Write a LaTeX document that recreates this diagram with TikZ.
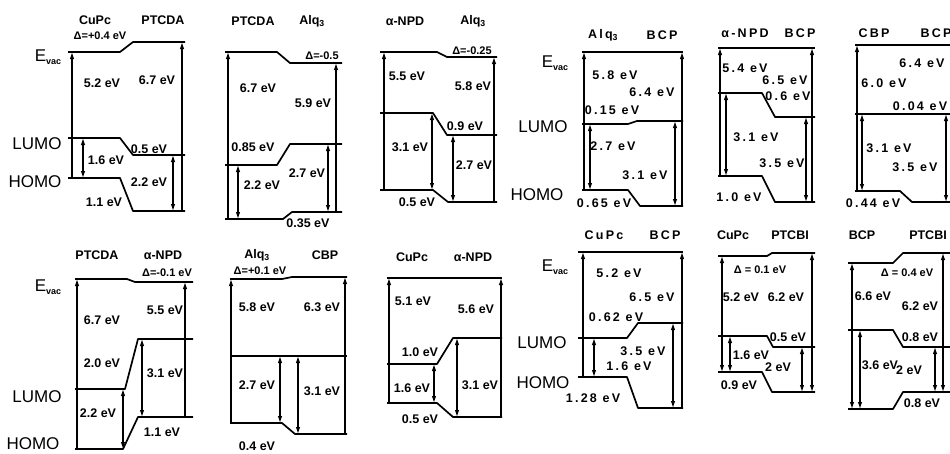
\documentclass[tikz,border=0pt]{standalone}
\usepackage{fontspec}
\setmainfont{Liberation Sans}
\newfontfamily\spcfont[LetterSpace=18]{Liberation Sans}
\usetikzlibrary{arrows.meta}
\newcounter{lblc}
\newcommand\tl[3][lbl]{\stepcounter{lblc}\node[#1] (t\arabic{lblc}) at (#2) {#3};}
\tikzset{
 lev/.style={line width=1.7pt, line join=round},
 uarr/.style={line width=1.1pt, -{Latex[length=7pt,width=4.5pt]}},
 darr/.style={line width=1.1pt, {Latex[length=7pt,width=4.5pt]}-{Latex[length=7pt,width=4.5pt]}},
 lbl/.style={font=\fontsize{12.5}{13}\selectfont\bfseries, inner sep=0pt},
 slbl/.style={font=\spcfont\fontsize{12.5}{13}\selectfont\bfseries, inner sep=0pt},
 dlbl/.style={font=\fontsize{11}{12}\selectfont\bfseries, inner sep=0pt},
 side/.style={font=\fontsize{17}{18}\selectfont, inner sep=0pt},
}
\newcommand\evac{E\raisebox{-3pt}{\fontsize{9}{9}\selectfont\bfseries vac}}
\begin{document}
\begin{tikzpicture}[x=1pt,y=-1pt]
\clip (0,0) rectangle (950,453);
\fill[white] (0,0) rectangle (950,453);
% ---------- Panel 1: CuPc / PTCDA
\draw[lev] (68,52) -- (120,52) -- (133,42) -- (185,42);
\draw[lev] (68,138) -- (120,138) -- (133,155) -- (185,155);
\draw[lev] (68,178) -- (120,178) -- (133,211) -- (185,211);
\draw[uarr] (72,178) -- (72,52);
\draw[darr] (83,138) -- (83,178);
\draw[uarr] (182,211) -- (182,42);
\draw[darr] (173,155) -- (173,211);
\tl{95,20}{CuPc}\tl{163,20}{PTCDA}
\tl[dlbl]{100,36}{Δ=+0.4 eV}
\tl{102,83}{5.2 eV}\tl{157,80}{6.7 eV}\tl{106,160}{1.6 eV}
\tl{149,149}{0.5 eV}\tl{149,182}{2.2 eV}\tl{104,202}{1.1 eV}
\tl[side]{48,57}{\evac}\tl[side]{37,144}{LUMO}\tl[side]{35,182}{HOMO}
% ---------- Panel 2: PTCDA / Alq3
\draw[lev] (225,52) -- (277,52) -- (290,63) -- (342,63);
\draw[lev] (225,165) -- (277,165) -- (290,144) -- (342,144);
\draw[lev] (225,219) -- (283,219) -- (292,212) -- (342,212);
\draw[uarr] (228,219) -- (228,52);
\draw[darr] (238,165) -- (238,219);
\draw[uarr] (336,212) -- (336,63);
\draw[darr] (328,144) -- (328,212);
\tl{253,21}{PTCDA}\tl{312,21}{Alq\textsubscript{3}}
\tl[dlbl]{322,56}{Δ=-0.5}
\tl{258,88}{6.7 eV}\tl{313,103}{5.9 eV}\tl{253,147}{0.85 eV}
\tl{262,185}{2.2 eV}\tl{307,173}{2.7 eV}\tl{308,223}{0.35 eV}
% ---------- Panel 3: a-NPD / Alq3
\draw[lev] (380,52) -- (437,52) -- (447,57) -- (497,57);
\draw[lev] (380,113) -- (433,113) -- (447,135) -- (497,135);
\draw[lev] (380,190) -- (433,190) -- (448,202) -- (497,202);
\draw[uarr] (384,190) -- (384,52);
\draw[darr] (432,113) -- (432,190);
\draw[darr] (453,135) -- (453,202);
\draw[uarr] (494,202) -- (494,57);
\tl{405,21}{α-NPD}\tl{473,21}{Alq\textsubscript{3}}
\tl[dlbl]{472,51}{Δ=-0.25}
\tl{407,76}{5.5 eV}\tl{473,86}{5.8 eV}\tl{465,126}{0.9 eV}
\tl{410,147}{3.1 eV}\tl{474,165}{2.7 eV}\tl{417,202}{0.5 eV}
% ---------- Panel 4: Alq3 / BCP
\draw[lev] (582,52) -- (683,52);
\draw[lev] (582,124) -- (628,124) -- (637,121) -- (683,121);
\draw[lev] (582,190) -- (628,190) -- (640,206) -- (683,206);
\draw[uarr] (584,190) -- (584,52);
\draw[darr] (590,124) -- (590,190);
\draw[darr] (675,121) -- (675,206);
\draw[uarr] (682,206) -- (682,52);
\tl[slbl]{603,35}{Alq\textsubscript{3}}\tl[slbl]{662,35}{BCP}
\tl[slbl]{615,75}{5.8 eV}\tl[slbl]{652,92}{6.4 eV}\tl[slbl]{612,110}{0.15 eV}
\tl[slbl]{613,146}{2.7 eV}\tl[slbl]{645,175}{3.1 eV}\tl[slbl]{604,203}{0.65 eV}
\tl[side]{555,63}{\evac}\tl[side]{543,127}{LUMO}\tl[side]{537,195}{HOMO}
% ---------- Panel 5: a-NPD / BCP
\draw[lev] (718,48) -- (815,48);
\draw[lev] (718,93) -- (762,93) -- (775,117) -- (815,117);
\draw[lev] (718,176) -- (762,176) -- (775,202) -- (815,202);
\draw[uarr] (720,176) -- (720,48);
\draw[darr] (726,93) -- (726,176);
\draw[darr] (806,117) -- (806,202);
\draw[uarr] (812,202) -- (812,48);
\tl[slbl]{745,33}{α-NPD}\tl[slbl]{800,33}{BCP}
\tl[slbl]{745,68}{5.4 eV}\tl[slbl]{785,80}{6.5 eV}\tl[slbl]{788,96}{0.6 eV}
\tl[slbl]{756,137}{3.1 eV}\tl[slbl]{782,163}{3.5 eV}\tl[slbl]{739,197}{1.0 eV}
% ---------- Panel 6: CBP / BCP
\draw[lev] (855,45) -- (950,45);
\draw[lev] (855,114) -- (950,114);
\draw[lev] (855,191) -- (900,191) -- (912,202) -- (950,202);
\draw[uarr] (857,191) -- (857,45);
\draw[darr] (862,114) -- (862,191);
\draw[darr] (946,114) -- (946,202);
\tl[slbl]{874,33}{CBP}\tl[slbl]{936,33}{BCP}
\tl[slbl]{922,63}{6.4 eV}\tl[slbl]{884,83}{6.0 eV}\tl[slbl]{920,106}{0.04 eV}
\tl[slbl]{889,148}{3.1 eV}\tl[slbl]{915,167}{3.5 eV}\tl[slbl]{873,203}{0.44 eV}
% ---------- Panel 7: PTCDA / a-NPD
\draw[lev] (75,279) -- (127,279) -- (135,282) -- (193,282);
\draw[lev] (75,389) -- (125,389) -- (138,339) -- (193,339);
\draw[lev] (75,449) -- (123,449) -- (138,417) -- (193,417);
\draw[uarr] (77,449) -- (77,279);
\draw[darr] (123,389) -- (123,449);
\draw[darr] (142,339) -- (142,417);
\draw[uarr] (185,417) -- (185,282);
\tl{97,255}{PTCDA}\tl{163,255}{α-NPD}
\tl[dlbl]{167,273}{Δ=-0.1 eV}
\tl{102,320}{6.7 eV}\tl{165,310}{5.5 eV}\tl{102,363}{2.0 eV}
\tl{165,373}{3.1 eV}\tl{98,413}{2.2 eV}\tl{162,432}{1.1 eV}
\tl[side]{48,287}{\evac}\tl[side]{37,397}{LUMO}\tl[side]{33,444}{HOMO}
% ---------- Panel 8: Alq3 / CBP
\draw[lev] (230,279) -- (282,279) -- (292,277) -- (347,277);
\draw[lev] (230,356) -- (347,356);
\draw[lev] (230,423) -- (282,423) -- (295,434) -- (347,434);
\draw[uarr] (231,423) -- (231,279);
\draw[darr] (280,356) -- (280,423);
\draw[darr] (298,356) -- (298,434);
\draw[uarr] (345,434) -- (345,277);
\tl{257,255}{Alq\textsubscript{3}}\tl{325,255}{CBP}
\tl[dlbl]{260,271}{Δ=+0.1 eV}
\tl{257,307}{5.8 eV}\tl{322,307}{6.3 eV}\tl{257,385}{2.7 eV}
\tl{322,391}{3.1 eV}\tl{257,446}{0.4 eV}
% ---------- Panel 9: CuPc / a-NPD
\draw[lev] (387,278) -- (502,278);
\draw[lev] (387,364) -- (437,364) -- (453,338) -- (502,338);
\draw[lev] (387,403) -- (437,403) -- (453,417) -- (502,417);
\draw[uarr] (389,403) -- (389,278);
\draw[darr] (434,364) -- (434,403);
\draw[darr] (457,338) -- (457,417);
\draw[uarr] (501,417) -- (501,278);
\tl{412,257}{CuPc}\tl{473,257}{α-NPD}
\tl{413,301}{5.1 eV}\tl{476,309}{5.6 eV}\tl{420,352}{1.0 eV}
\tl{412,388}{1.6 eV}\tl{420,419}{0.5 eV}\tl{480,385}{3.1 eV}
% ---------- Panel 10: CuPc / BCP
\draw[lev] (578,252) -- (683,252);
\draw[lev] (578,338) -- (627,338) -- (638,323) -- (683,323);
\draw[lev] (578,377) -- (627,377) -- (638,408) -- (683,408);
\draw[uarr] (583,377) -- (583,252);
\draw[darr] (594,338) -- (594,377);
\draw[darr] (673,323) -- (673,408);
\draw[uarr] (682,408) -- (682,252);
\tl[slbl]{604,235}{CuPc}\tl[slbl]{665,235}{BCP}
\tl[slbl]{619,273}{5.2 eV}\tl[slbl]{652,297}{6.5 eV}\tl[slbl]{616,317}{0.62 eV}
\tl[slbl]{643,351}{3.5 eV}\tl[slbl]{629,366}{1.6 eV}\tl[slbl]{593,398}{1.28 eV}
\tl[side]{555,267}{\evac}\tl[side]{542,343}{LUMO}\tl[side]{543,383}{HOMO}
% ---------- Panel 11: CuPc / PTCBI
\draw[lev] (718,256) -- (767,256) -- (772,253) -- (815,253);
\draw[lev] (718,336) -- (767,336) -- (773,347) -- (815,347);
\draw[lev] (718,372) -- (762,372) -- (772,392) -- (815,392);
\draw[darr] (722,256) -- (722,372);
\draw[darr] (730,336) -- (730,372);
\draw[darr] (802,347) -- (802,392);
\draw[darr] (812,253) -- (812,392);
\tl{733,235}{CuPc}\tl{790,235}{PTCBI}
\tl[dlbl]{760,270}{Δ = 0.1 eV}
\tl{741,297}{5.2 eV}\tl{786,297}{6.2 eV}\tl{788,337}{0.5 eV}
\tl{751,355}{1.6 eV}\tl{778,367}{2 eV}\tl{739,385}{0.9 eV}
% ---------- Panel 12: BCP / PTCBI
\draw[lev] (848,263) -- (893,263) -- (903,253) -- (950,253);
\draw[lev] (848,330) -- (893,330) -- (903,347) -- (950,347);
\draw[lev] (848,409) -- (893,409) -- (903,392) -- (950,392);
\draw[darr] (852,263) -- (852,409);
\draw[darr] (860,330) -- (860,409);
\draw[darr] (935,347) -- (935,392);
\draw[darr] (943,253) -- (943,392);
\tl{862,235}{BCP}\tl{928,235}{PTCBI}
\tl[dlbl]{907,273}{Δ = 0.4 eV}
\tl{873,296}{6.6 eV}\tl{920,306}{6.2 eV}\tl{920,337}{0.8 eV}
\tl{880,365}{3.6 eV}\tl{909,370}{2 eV}\tl{922,403}{0.8 eV}
\end{tikzpicture}
\end{document}
